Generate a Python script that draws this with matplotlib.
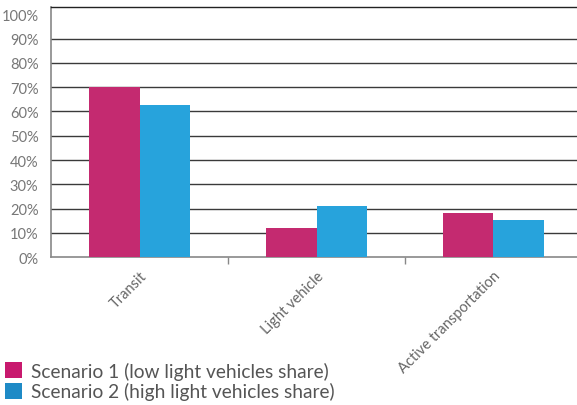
import matplotlib
matplotlib.use("Agg")
import matplotlib.pyplot as plt
import matplotlib.transforms as mtransforms
import numpy as np
from matplotlib.patches import Patch

categories = ["Transit", "Light vehicle", "Active transportation"]
scenario1 = [0.70, 0.12, 0.182]
scenario2 = [0.627, 0.212, 0.153]
series_names = ["Scenario 1 (low light vehicles share)", "Scenario 2 (high light vehicles share)"]
bar_colors = ["#C42A70", "#27A3DC"]
legend_colors = ["#C8196E", "#1E8AC6"]
yticks = [i / 10 for i in range(11)]
ytick_labels = [f"{i*10}%" for i in range(11)]

plt.rcParams['font.family'] = ['Lato', 'DejaVu Sans']

fig = plt.figure(figsize=(5.77, 4.06), dpi=100)
ax = fig.add_axes([51/577, (406-258.3)/406, 1 - 51/577, 250.3/406])

x = np.arange(len(categories))
w = 0.286
ax.bar(x - w/2, scenario1, w, color=bar_colors[0], zorder=3, linewidth=0)
ax.bar(x + w/2, scenario2, w, color=bar_colors[1], zorder=3, linewidth=0)

ax.set_xlim(-0.504, 2.475)
ax.set_ylim(0, 1.03)
ax.set_yticks(yticks)
ax.set_yticklabels(ytick_labels)
for g in yticks[1:10]:
    ax.axhline(g, color="#3a3a3a", lw=1.0, zorder=1)

ax.tick_params(axis='y', length=0, pad=9, labelsize=10.5, labelcolor="#777777")
ax.set_xticks(x)
ax.set_xticklabels(categories, rotation=45, ha='right', rotation_mode='anchor',
                   fontsize=10.5, color="#666666")
offset = mtransforms.ScaledTranslation(15/100, 0, fig.dpi_scale_trans)
for lbl in ax.get_xticklabels():
    lbl.set_transform(lbl.get_transform() + offset)
ax.tick_params(axis='x', which='major', length=0, pad=8)
ax.set_xticks([0.5, 1.5], minor=True)
ax.tick_params(axis='x', which='minor', length=5, color="#888888", width=1)

for s in ['left', 'bottom']:
    ax.spines[s].set_color("#888888")
    ax.spines[s].set_linewidth(1.2)
ax.spines['right'].set_visible(False)
ax.spines['top'].set_color("#222222")
ax.spines['top'].set_linewidth(1.0)

handles = [Patch(facecolor=c, edgecolor='none') for c in legend_colors]
fig.legend(handles, series_names, loc='lower left', bbox_to_anchor=(0.0, 0.0),
           frameon=False, fontsize=13.8, handlelength=0.9, handleheight=0.9,
           handletextpad=0.45, labelspacing=0.12, borderaxespad=0.15, borderpad=0.1,
           labelcolor="#555555")

fig.savefig("out.png", dpi=100)
